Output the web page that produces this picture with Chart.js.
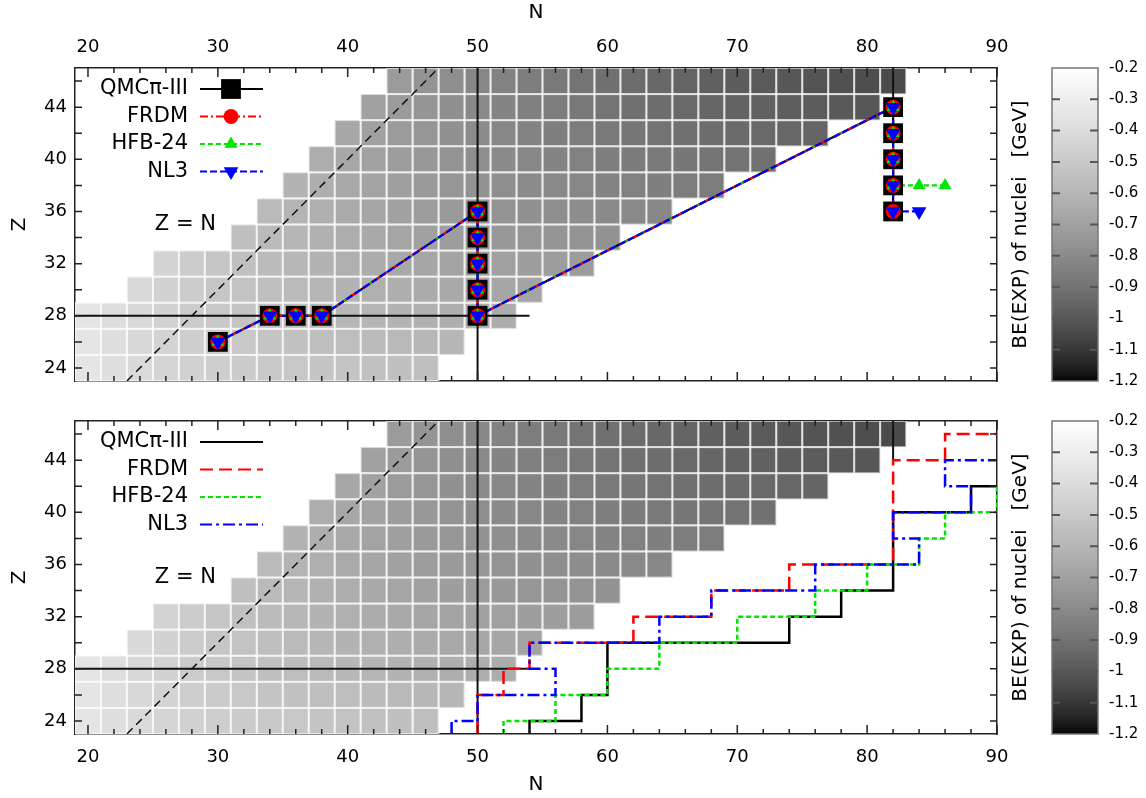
<!DOCTYPE html>
<html>
<head>
<meta charset="utf-8">
<script src="https://cdn.jsdelivr.net/npm/chart.js@4.4.1/dist/chart.umd.min.js"></script>
<style>
  body { margin: 0; background: #fff; }
  #wrap { position: relative; width: 1146px; height: 798px; }
  canvas { position: absolute; left: 0; }
  #top { top: 0; }
  #bot { top: 400px; }
</style>
</head>
<body>
<div id="wrap">
  <canvas id="top" width="1146" height="400"></canvas>
  <canvas id="bot" width="1146" height="398"></canvas>
</div>
<script>
// tick labels
const nTicks = [20, 30, 40, 50, 60, 70, 80, 90];
const zTicks = [24, 28, 32, 36, 40, 44];
const cbTicks = [-1.2, -1.1, -1.0, -0.9, -0.8, -0.7, -0.6, -0.5, -0.4, -0.3, -0.2];
const seriesNames = ["QMCπ-III", "FRDM", "HFB-24", "NL3"];

const cellZ = [24, 26, 28, 30, 32, 34, 36, 38, 40, 42, 44, 46];
const cellFirstN = [20, 20, 20, 24, 26, 32, 34, 36, 38, 40, 42, 44];
const beZ24 = [-0.350, -0.382, -0.412, -0.435, -0.456, -0.474, -0.489, -0.501, -0.513, -0.523, -0.532, -0.540, -0.547, -0.553];
const beZ26 = [-0.351, -0.386, -0.418, -0.448, -0.472, -0.492, -0.510, -0.525, -0.539, -0.551, -0.563, -0.573, -0.582, -0.590, -0.597];
const beZ28 = [-0.348, -0.386, -0.420, -0.453, -0.484, -0.506, -0.526, -0.545, -0.561, -0.576, -0.591, -0.602, -0.614, -0.624, -0.634, -0.642, -0.647];
const beZ30 = [-0.416, -0.453, -0.487, -0.514, -0.538, -0.559, -0.579, -0.596, -0.611, -0.625, -0.638, -0.650, -0.661, -0.671, -0.677, -0.682];
const beZ32 = [-0.449, -0.486, -0.517, -0.546, -0.570, -0.591, -0.611, -0.628, -0.645, -0.661, -0.674, -0.686, -0.698, -0.705, -0.712, -0.718, -0.723];
const beZ34 = [-0.548, -0.576, -0.599, -0.622, -0.642, -0.662, -0.680, -0.696, -0.712, -0.727, -0.738, -0.747, -0.755, -0.762, -0.768];
const beZ36 = [-0.578, -0.607, -0.632, -0.655, -0.676, -0.696, -0.715, -0.732, -0.749, -0.761, -0.773, -0.783, -0.791, -0.800, -0.807, -0.813];
const beZ38 = [-0.612, -0.638, -0.664, -0.687, -0.709, -0.729, -0.749, -0.768, -0.783, -0.796, -0.808, -0.819, -0.830, -0.840, -0.848, -0.855, -0.861];
const beZ40 = [-0.640, -0.669, -0.694, -0.718, -0.740, -0.762, -0.784, -0.800, -0.814, -0.829, -0.841, -0.853, -0.864, -0.874, -0.883, -0.891, -0.898, -0.904];
const beZ42 = [-0.670, -0.697, -0.724, -0.748, -0.773, -0.797, -0.815, -0.831, -0.847, -0.861, -0.875, -0.887, -0.899, -0.910, -0.920, -0.929, -0.937, -0.944, -0.950];
const beZ44 = [-0.698, -0.727, -0.754, -0.781, -0.807, -0.827, -0.845, -0.862, -0.878, -0.893, -0.907, -0.921, -0.934, -0.946, -0.957, -0.967, -0.976, -0.985, -0.993, -1.000];
const beZ46 = [-0.728, -0.757, -0.786, -0.814, -0.836, -0.856, -0.875, -0.892, -0.909, -0.925, -0.940, -0.954, -0.968, -0.980, -0.991, -1.002, -1.012, -1.022, -1.031, -1.040];
const beRows = [beZ24, beZ26, beZ28, beZ30, beZ32, beZ34, beZ36, beZ38, beZ40, beZ42, beZ44, beZ46];

// guide lines [N, Z]
const magicN50 = [[50, 23], [50, 47]];
const magicZ28 = [[19, 28], [54, 28]];
const magicN82 = [[82, 44], [82, 47]];
const lineZeqN = [[23, 23], [47, 47]];

// upper panel: predicted drip nuclei [N, Z]
const qmcTop = [[30, 26], [34, 28], [36, 28], [38, 28], [50, 36], [50, 34], [50, 32], [50, 30], [50, 28], [82, 44], [82, 42], [82, 40], [82, 38], [82, 36]];
const frdmTop = [[30, 26], [34, 28], [36, 28], [38, 28], [50, 36], [50, 34], [50, 32], [50, 30], [50, 28], [82, 44], [82, 42], [82, 40], [82, 38], [82, 36]];
const hfbTop = [[30, 26], [34, 28], [36, 28], [38, 28], [50, 36], [50, 34], [50, 32], [50, 30], [50, 28], [82, 44], [82, 42], [82, 40], [82, 38], [84, 38], [86, 38]];
const nl3Top = [[30, 26], [34, 28], [36, 28], [38, 28], [50, 36], [50, 34], [50, 32], [50, 30], [50, 28], [82, 44], [82, 42], [82, 40], [82, 38], [82, 36], [84, 36]];

// lower panel: drip line steps [N, Z]
const qmcBot = [[54, 23], [54, 24], [58, 24], [58, 26], [60, 26], [60, 30], [74, 30], [74, 32], [78, 32], [78, 34], [82, 34], [82, 40], [88, 40], [88, 42], [90, 42]];
const frdmBot = [[50, 23], [50, 26], [52, 26], [52, 28], [54, 28], [54, 30], [62, 30], [62, 32], [68, 32], [68, 34], [74, 34], [74, 36], [82, 36], [82, 44], [86, 44], [86, 46], [90, 46]];
const hfbBot = [[52, 23], [52, 24], [56, 24], [56, 26], [60, 26], [60, 28], [64, 28], [64, 30], [70, 30], [70, 32], [76, 32], [76, 34], [80, 34], [80, 36], [84, 36], [84, 38], [86, 38], [86, 40], [90, 40], [90, 42]];
const nl3Bot = [[48, 23], [48, 24], [50, 24], [50, 26], [56, 26], [56, 28], [54, 28], [54, 30], [64, 30], [64, 32], [68, 32], [68, 34], [76, 34], [76, 36], [84, 36], [84, 38], [82, 38], [82, 40], [88, 40], [88, 42], [86, 42], [86, 44], [90, 44]];

// styles
const colores = ["#000000", "#ff0000", "#00e600", "#0000ff"];
const dashTop = [[], [8, 3, 2, 3], [5, 3], [7, 3]];
const dashBot = [[], [13, 6], [5, 3], [12, 4, 3, 4]];
const lineOrder = [14, 12, 13, 11];
const markers = [
  { style: "rect", r: 14, rot: 0 },
  { style: "circle", r: 7.5, rot: 0 },
  { style: "triangle", r: 7.5, rot: 0 },
  { style: "triangle", r: 8.5, rot: 180 },
];
const FONT = "'DejaVu Sans', sans-serif";

Chart.defaults.font.family = FONT;
Chart.defaults.color = "#000";

const pts = (arr) => arr.map(([x, y]) => ({ x, y }));

function grayFor(v) {
  let f = (v + 1.2) / 1.0;
  f = Math.max(0, Math.min(1, f));
  const g = Math.round(255 * Math.pow(f, 1 / 1.5));
  return "rgb(" + g + "," + g + "," + g + ")";
}

function lineDs(data, color, dash, width, order) {
  return {
    data: pts(data), showLine: true, borderColor: color, borderWidth: width,
    borderDash: dash, pointRadius: 0, pointHoverRadius: 0, fill: false, tension: 0, order,
  };
}

function pointDs(data, color, m, order) {
  return {
    data: pts(data), showLine: false, pointStyle: m.style, pointRadius: m.r,
    pointHoverRadius: m.r, rotation: m.rot, backgroundColor: color, borderColor: color,
    borderWidth: 0, order,
  };
}

function drawMarker(ctx, m, x, y, color) {
  ctx.save();
  ctx.fillStyle = color;
  ctx.beginPath();
  if (m.style === "rect") {
    const h = m.r * Math.SQRT1_2;
    ctx.rect(x - h, y - h, 2 * h, 2 * h);
  } else if (m.style === "circle") {
    ctx.arc(x, y, m.r, 0, 2 * Math.PI);
  } else {
    let rad = (m.rot * Math.PI) / 180;
    for (let k = 0; k < 3; k++) {
      ctx.lineTo(x + Math.sin(rad) * m.r, y - Math.cos(rad) * m.r);
      rad += (2 * Math.PI) / 3;
    }
    ctx.closePath();
  }
  ctx.fill();
  ctx.restore();
}

// grey squares of the nuclei
const cellsPlugin = {
  id: "cells",
  beforeDatasetsDraw(chart) {
    const { ctx, chartArea: a, scales: { x, y } } = chart;
    ctx.save();
    ctx.beginPath();
    ctx.rect(a.left, a.top, a.right - a.left, a.bottom - a.top);
    ctx.clip();
    const rects = [];
    beRows.forEach((row, r) => {
      const z = cellZ[r];
      row.forEach((v, k) => {
        const n = cellFirstN[r] + 2 * k;
        const x0 = x.getPixelForValue(n - 1), x1 = x.getPixelForValue(n + 1);
        const y0 = y.getPixelForValue(z + 1), y1 = y.getPixelForValue(z - 1);
        ctx.fillStyle = grayFor(v);
        ctx.fillRect(x0, y0, x1 - x0, y1 - y0);
        rects.push([x0, y0, x1 - x0, y1 - y0]);
      });
    });
    ctx.strokeStyle = "rgba(255,255,255,0.55)";
    ctx.lineWidth = 2;
    rects.forEach((rc) => ctx.strokeRect(rc[0], rc[1], rc[2], rc[3]));
    ctx.restore();
  },
};

// ticks inside the frame, texts, legend, colour box
const decorPlugin = {
  id: "decor",
  afterDraw(chart, args, opts) {
    const { ctx, chartArea: a, scales: { x, y, y2, cb } } = chart;
    ctx.save();

    ctx.strokeStyle = "#222";
    ctx.lineWidth = 1.5;
    ctx.beginPath();
    for (let n = 20; n <= 90; n += 2) {
      const px = x.getPixelForValue(n);
      const len = n % 10 === 0 ? 9 : 5;
      ctx.moveTo(px, a.bottom); ctx.lineTo(px, a.bottom - len);
      ctx.moveTo(px, a.top); ctx.lineTo(px, a.top + len);
    }
    for (let z = 24; z <= 46; z += 2) {
      const py = y.getPixelForValue(z);
      ctx.moveTo(a.left, py); ctx.lineTo(a.left + 7, py);
      ctx.moveTo(a.right, py); ctx.lineTo(a.right - 7, py);
    }
    ctx.stroke();

    // Z = N label
    ctx.fillStyle = "#000";
    ctx.font = "21px " + FONT;
    ctx.textAlign = "center";
    ctx.textBaseline = "middle";
    ctx.fillText("Z = N", x.getPixelForValue(27.5), y.getPixelForValue(35));

    // legend
    seriesNames.forEach((name, i) => {
      const yy = a.top + 21 + 27.5 * i;
      ctx.fillStyle = "#000";
      ctx.font = "21px " + FONT;
      ctx.textAlign = "right";
      ctx.fillText(name, a.left + 113, yy);
      ctx.strokeStyle = colores[i];
      ctx.lineWidth = opts.lineWidth;
      ctx.setLineDash(opts.dashes[i]);
      ctx.beginPath();
      ctx.moveTo(a.left + 125, yy);
      ctx.lineTo(a.left + 188, yy);
      ctx.stroke();
      ctx.setLineDash([]);
      if (opts.markers) drawMarker(ctx, markers[i], a.left + 156, yy, colores[i]);
    });

    // colour box label
    ctx.save();
    ctx.translate(y2.left + 24, (a.top + a.bottom) / 2);
    ctx.rotate(-Math.PI / 2);
    ctx.fillStyle = "#000";
    ctx.font = "20px " + FONT;
    ctx.textAlign = "center";
    ctx.fillText("BE(EXP) of nuclei   [GeV]", 0, 0);
    ctx.restore();

    // colour box, to the left of the cb tick labels
    const bw = 46, bx = cb.left - 54;
    for (let py = Math.floor(cb.top); py < cb.bottom; py++) {
      ctx.fillStyle = grayFor(cb.getValueForPixel(py + 0.5));
      ctx.fillRect(bx, py, bw, 1);
    }
    ctx.strokeStyle = "#777";
    ctx.lineWidth = 1.5;
    ctx.strokeRect(bx, cb.top, bw, cb.bottom - cb.top);
    ctx.strokeStyle = "#555";
    ctx.lineWidth = 2;
    ctx.beginPath();
    cbTicks.slice(1, -1).forEach((v) => {
      const py = cb.getPixelForValue(v);
      ctx.moveTo(bx, py); ctx.lineTo(bx + 8, py);
      ctx.moveTo(bx + bw - 8, py); ctx.lineTo(bx + bw, py);
    });
    ctx.stroke();
    ctx.restore();
  },
};

function escalas(esArriba) {
  const border = { display: true, color: "#222", width: 1.5 };
  const grid = { display: true, drawOnChartArea: false, drawTicks: false };
  const setN = (s) => { s.ticks = nTicks.map((v) => ({ value: v })); };
  return {
    x: {
      type: "linear", position: "bottom", min: 19, max: 90, afterBuildTicks: setN,
      ticks: { display: !esArriba, font: { size: 18 }, padding: 13, maxRotation: 0, autoSkip: false },
      grid, border,
      title: { display: !esArriba, text: "N", font: { size: 20 }, padding: { top: 0, bottom: 1 } },
      afterFit: (s) => { s.height = esArriba ? 19 : 64; },
    },
    x2: {
      type: "linear", position: "top", min: 19, max: 90, afterBuildTicks: setN,
      ticks: { display: esArriba, font: { size: 18 }, padding: 10, maxRotation: 0, autoSkip: false },
      grid, border,
      title: { display: esArriba, text: "N", font: { size: 20 }, padding: { top: 1, bottom: 0 } },
      afterFit: (s) => { s.height = esArriba ? 68 : 21; },
    },
    y: {
      type: "linear", position: "left", min: 23, max: 47,
      afterBuildTicks: (s) => { s.ticks = zTicks.map((v) => ({ value: v })); },
      ticks: { font: { size: 18 }, padding: 8 },
      grid, border,
      title: { display: true, text: "Z", font: { size: 20 }, padding: { top: 8, bottom: 0 } },
      afterFit: (s) => { s.width = 75; },
    },
    y2: {
      type: "linear", position: "right", min: 23, max: 47, weight: 0,
      ticks: { display: false }, grid, border,
      afterFit: (s) => { s.width = 109; },
    },
    cb: {
      type: "linear", position: "right", min: -1.2, max: -0.2, weight: 1,
      afterBuildTicks: (s) => { s.ticks = cbTicks.map((v) => ({ value: v })); },
      ticks: { font: { size: 15 }, padding: 3, callback: (v) => String(Math.round(v * 10) / 10) },
      grid: { display: false, drawTicks: false }, border: { display: false },
      afterFit: (s) => { s.width = 40; },
    },
  };
}

function guias() {
  return [
    lineDs(magicN50, "#111", [], 2, 20),
    lineDs(magicZ28, "#111", [], 2, 20),
    lineDs(magicN82, "#111", [], 2, 20),
    lineDs(lineZeqN, "#111", [8, 5], 1.5, 20),
  ];
}

const datosTop = [qmcTop, frdmTop, hfbTop, nl3Top];
const datosBot = [qmcBot, frdmBot, hfbBot, nl3Bot];

const dsTop = guias()
  .concat(datosTop.map((d, i) => lineDs(d, colores[i], dashTop[i], 2.2, lineOrder[i])))
  .concat(datosTop.map((d, i) => pointDs(d, colores[i], markers[i], 4 - i)));

const dsBot = guias()
  .concat(datosBot.map((d, i) => lineDs(d, colores[i], dashBot[i], 2.5, 14 - i)));

function grafico(id, datasets, esArriba, conMarcas, dashes) {
  return new Chart(document.getElementById(id), {
    type: "scatter",
    data: { datasets },
    options: {
      responsive: false,
      animation: false,
      events: [],
      layout: { padding: 0 },
      scales: escalas(esArriba),
      plugins: {
        legend: { display: false },
        tooltip: { enabled: false },
        decor: { markers: conMarcas, dashes, lineWidth: 2 },
      },
    },
    plugins: [cellsPlugin, decorPlugin],
  });
}

grafico("top", dsTop, true, true, dashTop);
grafico("bot", dsBot, false, false, dashBot);
</script>
</body>
</html>
